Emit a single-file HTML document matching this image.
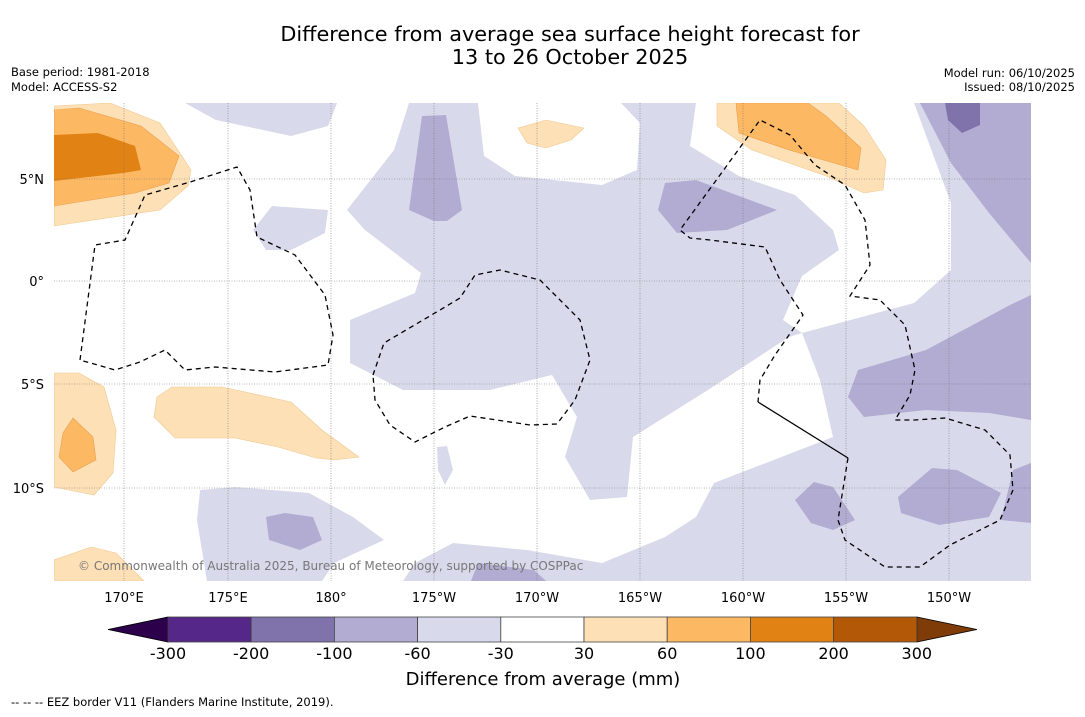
<!DOCTYPE html>
<html><head><meta charset="utf-8"><style>
body{margin:0;background:#fff;font-family:"DejaVu Sans","Liberation Sans",sans-serif}
svg text{font-family:"DejaVu Sans","Liberation Sans",sans-serif}
</style></head><body>
<svg id="c" width="1085" height="713" viewBox="0 0 1085 713" xmlns="http://www.w3.org/2000/svg">
<rect width="1085" height="713" fill="#fff"/>
<text x="570" y="41" font-size="20.8" text-anchor="middle">Difference from average sea surface height forecast for</text>
<text x="570" y="64" font-size="20.8" text-anchor="middle">13 to 26 October 2025</text>
<text x="11" y="76" font-size="11.5">Base period: 1981-2018</text>
<text x="11" y="91" font-size="11.5">Model: ACCESS-S2</text>
<text x="1075" y="77" font-size="11.5" text-anchor="end">Model run: 06/10/2025</text>
<text x="1075" y="91" font-size="11.5" text-anchor="end">Issued: 08/10/2025</text>
<defs><clipPath id="mc"><rect x="54" y="103" width="977" height="478"/></clipPath></defs>
<g clip-path="url(#mc)">
<g fill="#d8daeb">
<polygon points="409,103 394,150 347,210 365,230 421,273 415,293 350,320 350,363 403,390 490,390 552,375 577,417 565,457 590,500 627,497 633,437 708,390 789,337 802,333 820,380 833,437 714,483 696,517 665,537 602,563 527,550 453,543 415,563 403,581 1031,581 1031,103"/>
<polygon points="185,103 216,120 291,136 328,126 337,103"/>
<polygon points="253,230 272,206 328,210 325,233 291,250 266,250"/>
<polygon points="200,490 235,487 309,493 353,517 384,540 334,563 322,581 207,581 197,520"/>
<polygon points="437,447 447,446 453,470 445,485 438,470"/>
</g>
<g fill="#fff">
<polygon points="478,103 484,156 515,176 602,185 637,170 640,123 621,103"/>
<polygon points="696,103 690,146 739,176 795,195 833,230 839,250 802,276 783,320 802,333 914,303 951,270 951,203 914,103"/>
</g>
<g fill="#b2abd2">
<polygon points="422,116 446,115 462,210 447,221 434,221 409,210"/>
<polygon points="665,183 696,180 777,210 727,230 677,233 658,210"/>
<polygon points="920,103 1031,103 1031,263 989,213 951,163"/>
<polygon points="1031,295 1010,305 926,350 858,370 848,397 864,417 926,410 989,413 1031,420"/>
<polygon points="795,500 814,482 833,487 855,520 833,530 811,523"/>
<polygon points="898,497 932,468 957,470 1001,493 989,517 939,525 901,513"/>
<polygon points="1013,470 1031,463 1031,523 1001,520"/>
<polygon points="266,517 285,513 313,517 322,540 300,550 269,540"/>
<polygon points="478,563 534,570 546,581 471,581"/>
</g>
<polygon fill="#8073ac" points="945,103 980,103 980,125 962,133 948,120"/>
<g fill="#fee0b6" stroke="#f0c890" stroke-width="0.6">
<polygon points="54,106 110,103 160,123 191,170 188,186 160,210 54,226"/>
<polygon points="518,128 546,120 584,128 571,140 546,148 527,143"/>
<polygon points="717,103 717,126 752,150 826,176 864,193 883,190 886,160 864,126 839,103"/>
<polygon points="54,373 79,373 104,387 116,430 113,473 94,495 54,487"/>
<polygon points="157,397 172,387 222,387 291,402 322,430 359,457 334,460 316,458 278,447 235,438 175,438 154,417"/>
<polygon points="54,560 91,547 116,553 144,581 54,581"/>
</g>
<g fill="#fdb863" stroke="#e8a050" stroke-width="0.6">
<polygon points="54,110 79,108 141,126 179,156 169,183 135,193 54,206"/>
<polygon points="736,103 739,133 789,150 858,170 861,148 826,116 808,103"/>
<polygon points="73,418 93,437 96,460 73,472 59,457 63,433"/>
</g>
<polygon fill="#e08214" points="54,135 98,133 135,146 141,170 123,173 54,181"/>
<g stroke="#777" stroke-width="0.6" stroke-dasharray="1,1.5">
<line x1="124" y1="103" x2="124" y2="581"/><line x1="228" y1="103" x2="228" y2="581"/><line x1="331" y1="103" x2="331" y2="581"/><line x1="434" y1="103" x2="434" y2="581"/><line x1="537" y1="103" x2="537" y2="581"/><line x1="640" y1="103" x2="640" y2="581"/><line x1="743" y1="103" x2="743" y2="581"/><line x1="846" y1="103" x2="846" y2="581"/><line x1="949" y1="103" x2="949" y2="581"/>
<line x1="54" y1="179" x2="1031" y2="179"/><line x1="54" y1="281" x2="1031" y2="281"/><line x1="54" y1="384" x2="1031" y2="384"/><line x1="54" y1="488" x2="1031" y2="488"/>
</g>
<g fill="none" stroke="#000" stroke-width="1.3" stroke-dasharray="5,4">
<polyline points="80,360 95,245 125,240 145,195 190,182 237,167 250,190 257,237 295,255 325,295 333,335 328,365 275,372 215,367 185,370 165,350 140,362 115,370 80,360"/>
<polyline points="373,375 384,343 440,310 460,298 475,275 500,270 540,280 580,320 590,360 575,400 557,424 530,425 470,416 445,427 415,442 390,425 375,400 373,375"/>
<polyline points="848,458 838,520 845,540 885,567 920,567 950,545 1000,520 1013,490 1010,455 985,430 945,418 915,420 895,420 910,395 915,370 905,325 880,300 850,296 870,265 865,220 845,185 815,165 790,135 760,120 680,230 690,238 710,240 765,247 780,280 803,315 775,355 760,380 758,402"/>
</g>
<line x1="758" y1="402" x2="848" y2="458" stroke="#000" stroke-width="1.3"/>
<text x="78" y="570" font-size="12" fill="#777">© Commonwealth of Australia 2025, Bureau of Meteorology, supported by COSPPac</text>
</g>
<g font-size="13" text-anchor="end">
<text x="44" y="184">5°N</text><text x="44" y="286">0°</text><text x="44" y="389">5°S</text><text x="44" y="493">10°S</text>
</g>
<g font-size="13" text-anchor="middle">
<text x="124" y="602">170°E</text><text x="228" y="602">175°E</text><text x="331" y="602">180°</text><text x="434" y="602">175°W</text><text x="537" y="602">170°W</text><text x="640" y="602">165°W</text><text x="743" y="602">160°W</text><text x="846" y="602">155°W</text><text x="949" y="602">150°W</text>
</g>
<g id="cb"></g>
<text x="543" y="685" font-size="18" text-anchor="middle">Difference from average (mm)</text>
<text x="11" y="706" font-size="11.5">-- -- -- EEZ border V11 (Flanders Marine Institute, 2019).</text>
</svg>
<script>
const bounds = [-300,-200,-100,-60,-30,30,60,100,200,300];
const colors = ["#542788","#8073ac","#b2abd2","#d8daeb","#ffffff","#fee0b6","#fdb863","#e08214","#b35806"];
const tickLabels = ["-300","-200","-100","-60","-30","30","60","100","200","300"];
const ns="http://www.w3.org/2000/svg", g=document.getElementById('cb');
const x0=168, segW=83.2, y0=617, h=25;
function xi(i){return x0+i*segW;}
const lt=document.createElementNS(ns,'polygon');
lt.setAttribute('points',`${x0},${y0} ${x0},${y0+h} 108,${y0+h/2}`);
lt.setAttribute('fill','#2d004b');lt.setAttribute('stroke','#000');lt.setAttribute('stroke-width','0.8');


g.appendChild(lt);
const rt=document.createElementNS(ns,'polygon');
rt.setAttribute('points',`${xi(9)},${y0} ${xi(9)},${y0+h} 977,${y0+h/2}`);
rt.setAttribute('fill','#7f3b08');rt.setAttribute('stroke','#000');rt.setAttribute('stroke-width','0.8');


g.appendChild(rt);
colors.forEach((c,i)=>{
 const r=document.createElementNS(ns,'rect');
 r.setAttribute('x',xi(i));r.setAttribute('y',y0);r.setAttribute('width',segW);r.setAttribute('height',h);
 r.setAttribute('fill',c);r.setAttribute('stroke','#444');r.setAttribute('stroke-width','0.8');
 
 
 g.appendChild(r);
});
tickLabels.forEach((t,i)=>{
 const tx=document.createElementNS(ns,'text');
 tx.setAttribute('x',xi(i));tx.setAttribute('y',659);tx.setAttribute('font-size','16');tx.setAttribute('text-anchor','middle');
 tx.textContent=t;
 
 
 g.appendChild(tx);
});
</script>
</body></html>
